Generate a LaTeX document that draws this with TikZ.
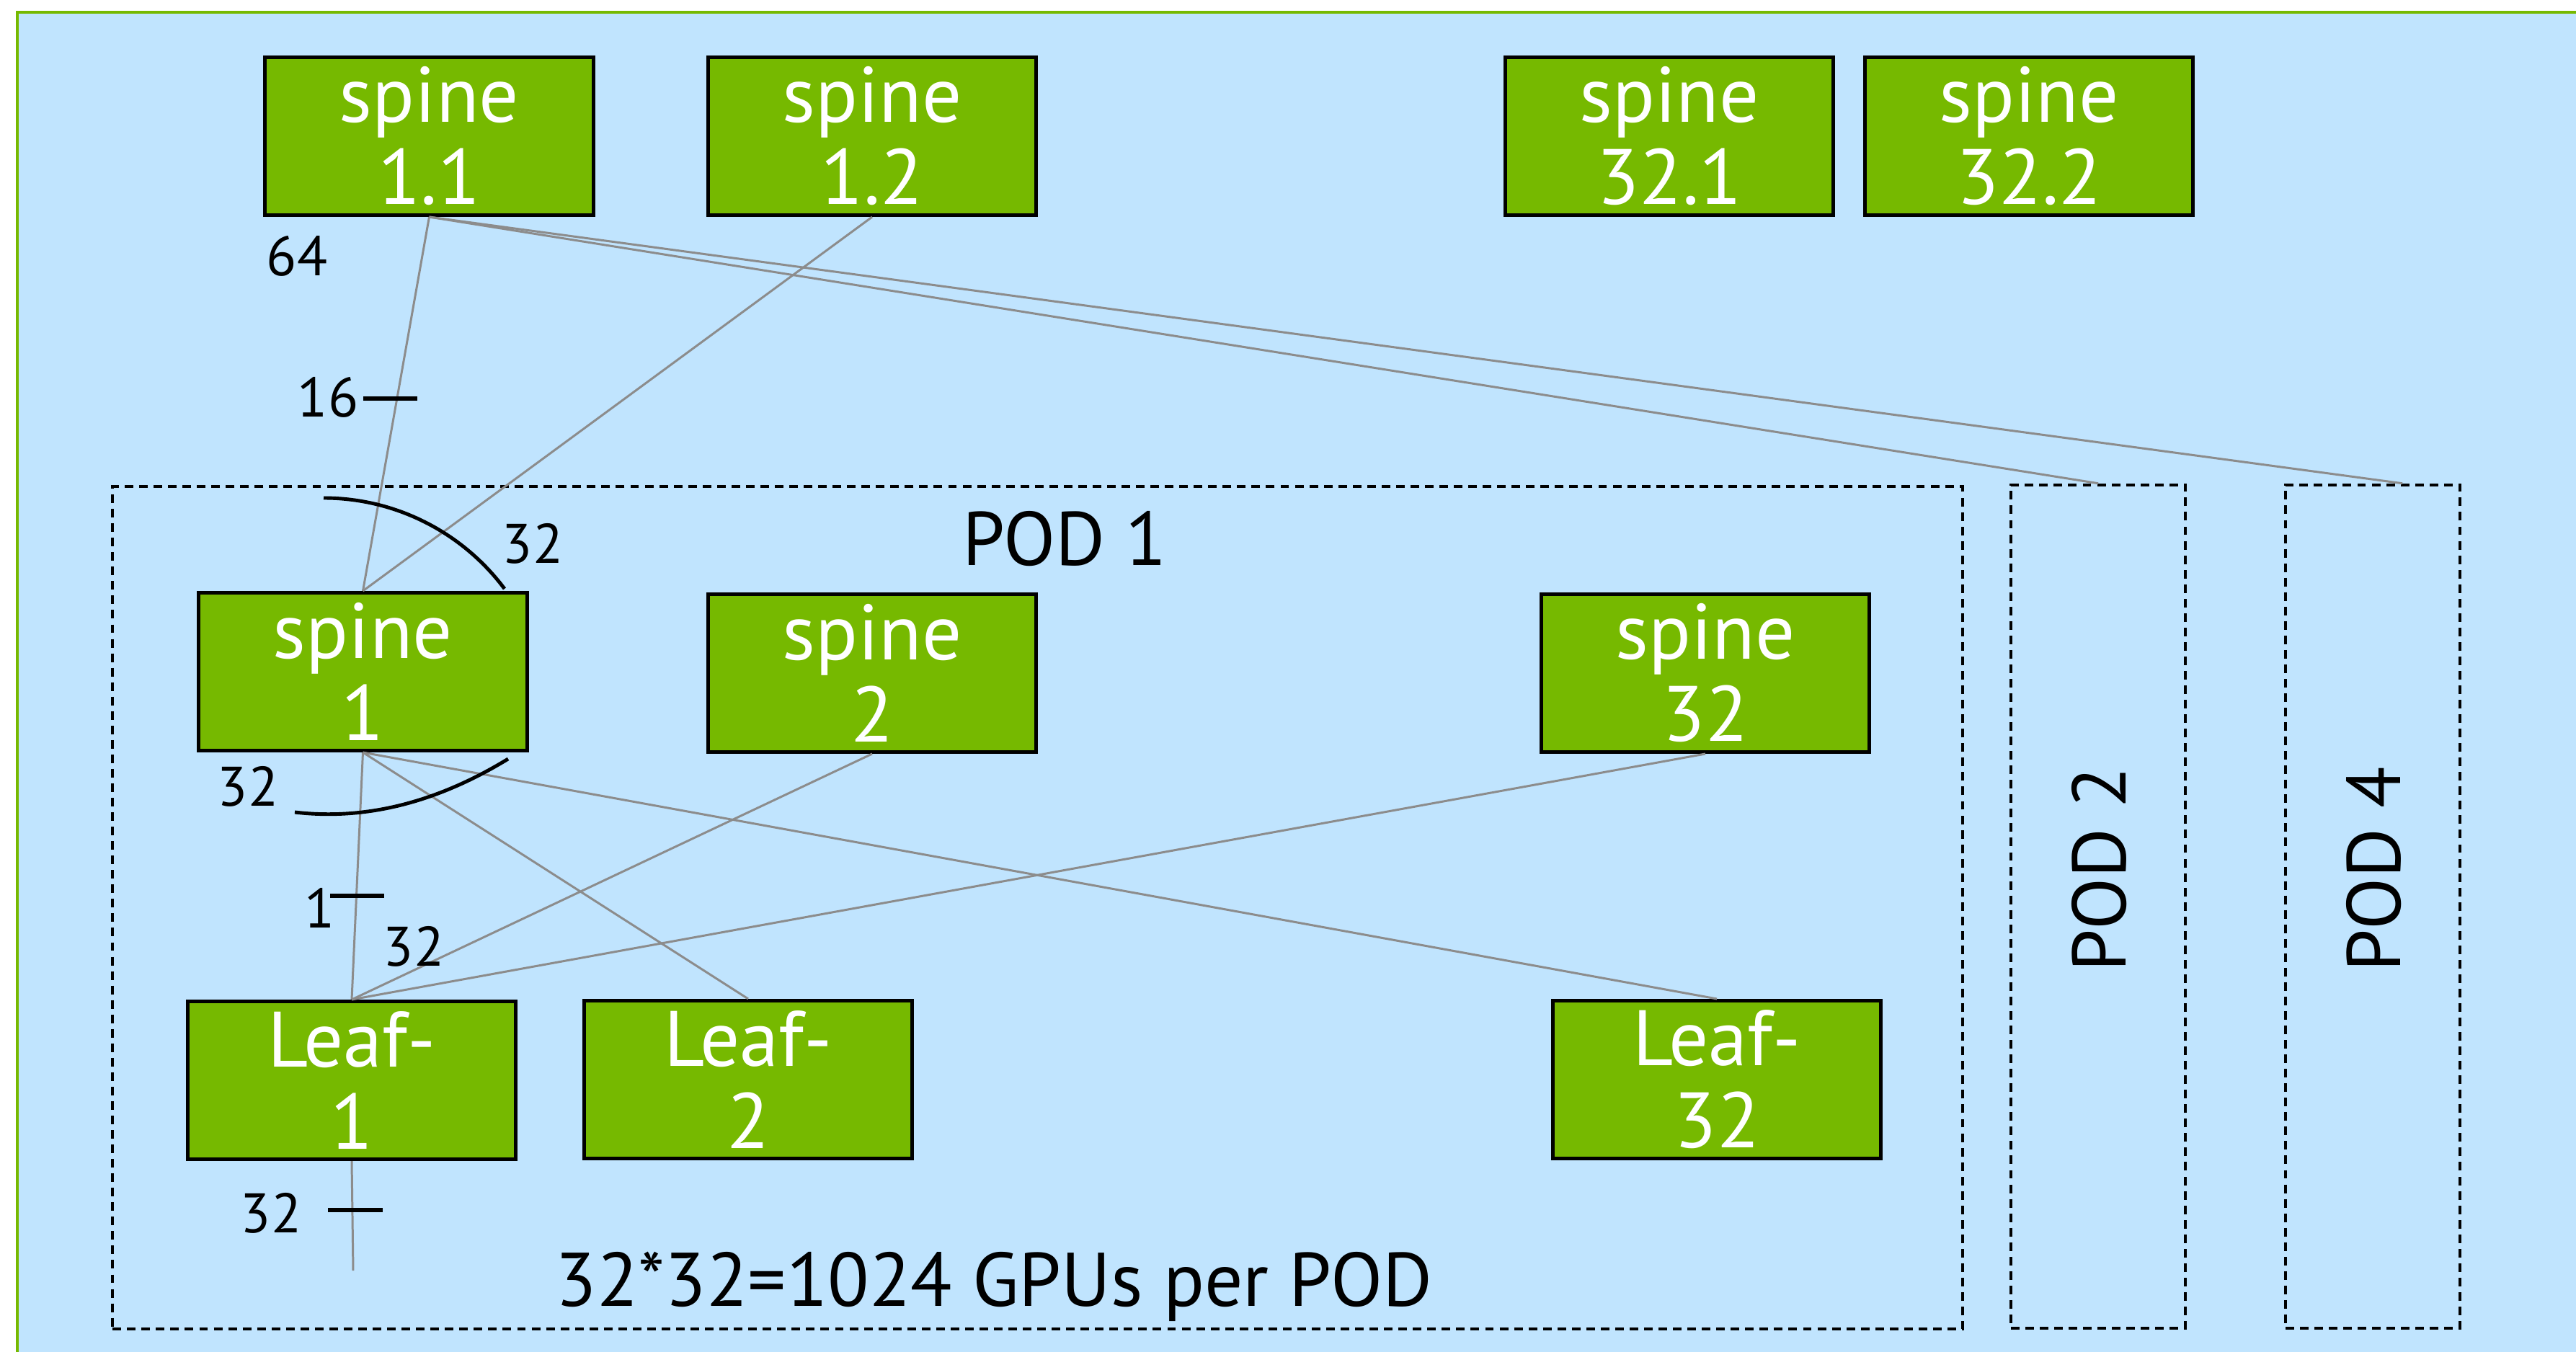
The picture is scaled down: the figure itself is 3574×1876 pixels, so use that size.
\documentclass[tikz,border=0pt]{standalone}
\usepackage{fontspec}
\setmainfont{PT Sans}
\usepackage{xcolor}
\usetikzlibrary{positioning,calc}

\definecolor{nvgreen}{RGB}{118,185,0}
\definecolor{podblue}{RGB}{192,228,254}
\definecolor{linkgray}{RGB}{140,140,140}

\tikzset{
    switchbox/.style={draw=black, line width=1.4pt, fill=nvgreen, text=white,
        minimum width=4.55cm, minimum height=2.19cm, inner sep=0pt,
        align=center, font=\fontsize{31}{32.4}\selectfont},
    podbox/.style={draw=black, dash pattern=on 3.4pt off 2.3pt, line width=1.1pt,
        inner sep=0pt},
    podlabel/.style={font=\fontsize{30}{32}\selectfont, inner sep=0pt},
    link/.style={draw=linkgray, line width=0.85pt},
    count/.style={font=\fontsize{22}{24}\selectfont, inner sep=0pt},
    tickmark/.style={draw=black, line width=1.7pt},
    bundle/.style={draw=black, line width=1.4pt}
}

\begin{document}
\begin{tikzpicture}[x=0.01cm, y=-0.01cm]
    \useasboundingbox (0,0) rectangle (3574,1876);
    \clip (0,0) rectangle (3574,1876);

    % Outer frame
    \draw [draw=nvgreen, line width=1.4pt, fill=podblue] (24,17) rectangle (3650,1950);

    % Pods
    \node[podbox, minimum width=25.65cm, minimum height=11.69cm] (pod1) at (1439.5,1259.5) {};
    \node[podbox, minimum width=2.42cm, minimum height=11.70cm] (pod2) at (2911,1258) {};
    \node[podbox, minimum width=2.42cm, minimum height=11.70cm] (pod4) at (3292,1258) {};
    \node[podlabel] (pod1txt) at (1477,748) {POD 1};
    \node[podlabel, rotate=90] (pod2txt) at (2913,1206) {POD 2};
    \node[podlabel, rotate=90] (pod4txt) at (3294,1206) {POD 4};
    \node[podlabel] (gpus) at (1379,1785) {32*32=1024 GPUs per POD};

    % Super spine row
    \node[switchbox] (s11) at (595.5,189) {spine\\1.1};
    \node[switchbox] (s12) at (1210,189) {spine\\1.2};
    \node[switchbox] (s321) at (2316,189) {spine\\32.1};
    \node[switchbox] (s322) at (2815,189) {spine\\32.2};

    % Spine row in POD 1
    \node[switchbox] (sp1) at (503.5,932) {spine\\1};
    \node[switchbox] (sp2) at (1210,934) {spine\\2};
    \node[switchbox] (sp32) at (2366,934) {spine\\32};

    % Leaf row in POD 1
    \node[switchbox] (lf1) at (488,1499) {Leaf-\\1};
    \node[switchbox] (lf2) at (1038,1498) {Leaf-\\2};
    \node[switchbox] (lf32) at (2382,1498) {Leaf-\\32};

    % Links between rows
    \draw [link] (s11.south) -- (sp1.north);
    \draw [link] (s12.south) -- (sp1.north);
    \draw [link] (s11.south) -- (pod2.north);
    \draw [link] (s11.south) -- ([xshift=0.41cm]pod4.north);
    \foreach \l in {lf1,lf2,lf32} {
        \draw [link] (sp1.south) -- (\l.north);
    }
    \draw [link] (sp2.south) -- (lf1.north);
    \draw [link] (sp32.south) -- (lf1.north);
    \coordinate (lf1end) at (490,1763);
    \draw [link] (lf1.south) -- (lf1end);

    % Port counts
    \node[count] (n64) at (412,355) {64};
    \node[count] (n16) at (455,551) {16};
    \draw [tickmark] (504,553) -- (579,553);
    \draw [bundle] (449,691) .. controls (548,691) and (641,738) .. (700,817);
    \node[count] (up32) at (739,754) {32};
    \draw [bundle] (705,1053) .. controls (620,1105) and (520,1140) .. (409,1127);
    \node[count] (dn32) at (344,1091) {32};
    \node[count] (n1) at (444,1260) {1};
    \draw [tickmark] (458,1243) -- (533,1243);
    \node[count] (lf32cnt) at (574,1313) {32};
    \node[count] (gpu32) at (376,1683) {32};
    \draw [tickmark] (455,1679) -- (531,1679);
\end{tikzpicture}
\end{document}
